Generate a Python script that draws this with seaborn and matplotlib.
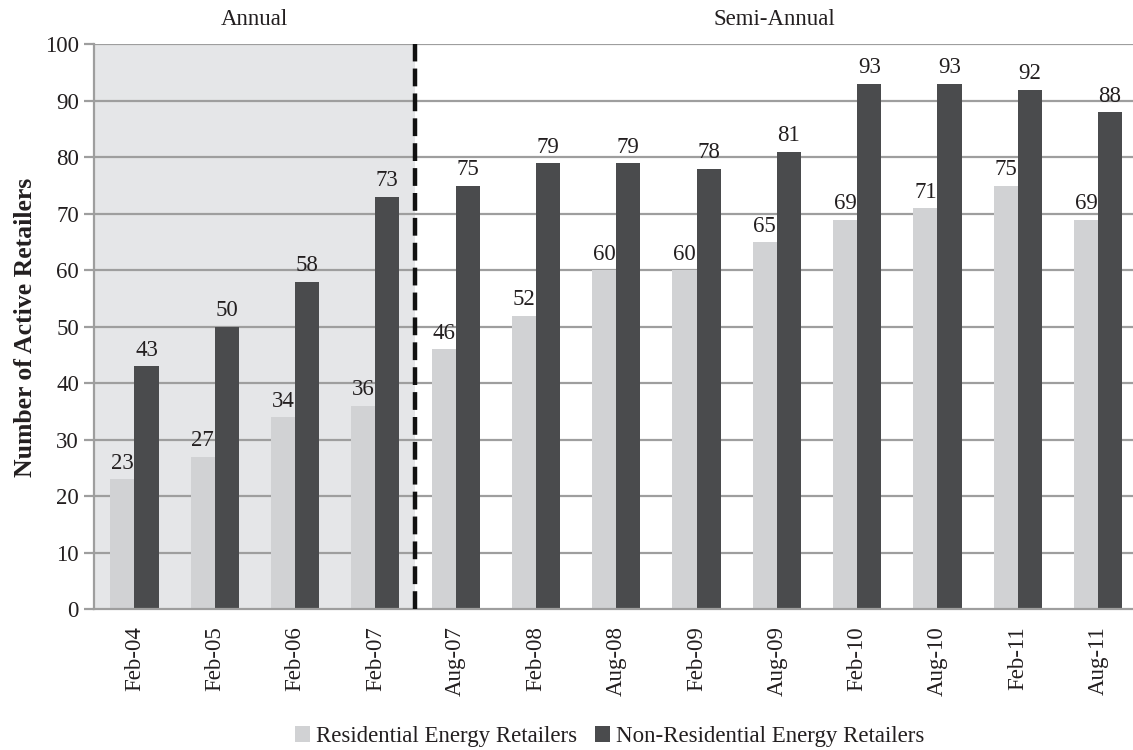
import matplotlib
matplotlib.use("Agg")
import matplotlib.pyplot as plt
import seaborn as sns
import pandas as pd
from matplotlib.patches import Patch

periods = ["Feb-04", "Feb-05", "Feb-06", "Feb-07", "Aug-07", "Feb-08", "Aug-08",
           "Feb-09", "Aug-09", "Feb-10", "Aug-10", "Feb-11", "Aug-11"]
residential = [23, 27, 34, 36, 46, 52, 60, 60, 65, 69, 71, 75, 69]
non_residential = [43, 50, 58, 73, 75, 79, 79, 78, 81, 93, 93, 92, 88]
series_names = ["Residential Energy Retailers", "Non-Residential Energy Retailers"]
section_labels = ["Annual", "Semi-Annual"]
y_ticks = list(range(0, 101, 10))

light = "#d1d2d4"
dark = "#4a4b4d"
shade = "#e5e6e8"
rule = "#9e9e9e"
text_color = "#231f20"
fs = 16.5

sns.set_theme(style="white")
plt.rcParams["font.family"] = ["Liberation Serif", "DejaVu Serif"]

df = pd.DataFrame({
    "period": periods * 2,
    "value": residential + non_residential,
    "series": [series_names[0]] * len(periods) + [series_names[1]] * len(periods),
})

fig = plt.figure(figsize=(11.33, 7.5), dpi=100)
ax = fig.add_axes([0.0832, 0.1876, 0.9214, 0.7531])

n = len(periods)
split = 3.5

# shaded background for the annual reporting period
ax.fill_between([-0.5, split], 0, 100, color=shade, zorder=0, linewidth=0)

sns.barplot(data=df, x="period", y="value", hue="series", order=periods,
            hue_order=series_names, palette=[light, dark], width=0.6,
            saturation=1, ax=ax, legend=False, zorder=3, linewidth=0)

for cont in ax.containers:
    ax.bar_label(cont, padding=4, fontsize=fs, color=text_color)

ax.set_xlim(-0.5, n - 0.5)
ax.set_ylim(0, 100)
ax.set_yticks(y_ticks)
ax.set_yticklabels([str(v) for v in y_ticks], fontsize=fs, color=text_color)
for v in y_ticks[1:]:
    ax.axhline(v, color=rule, linewidth=1.6, zorder=1)

# category labels at centres, tick marks at category boundaries
ax.set_xticks(range(n))
ax.set_xticklabels(periods, rotation=90, fontsize=fs, color=text_color)
ax.tick_params(axis="x", which="major", length=0, pad=12)
ax.set_xticks([i - 0.5 for i in range(n + 1)], minor=True)
ax.tick_params(axis="x", which="minor", length=6, width=1.6, color=rule, direction="out")
ax.tick_params(axis="y", length=7, width=1.6, color=rule, direction="out", left=True, pad=4)

for side in ["top", "right"]:
    ax.spines[side].set_visible(False)
for side in ["left", "bottom"]:
    ax.spines[side].set_color(rule)
    ax.spines[side].set_linewidth(1.6)
    ax.spines[side].set_zorder(4)

ax.axvline(split, color="#111111", linewidth=3.2, linestyle=(0, (4, 1.6)), zorder=5)

ax.set_xlabel("")
ax.set_ylabel("Number of Active Retailers", fontsize=18.5, fontweight="bold",
              color=text_color, labelpad=6)

ax.text((-0.5 + split) / 2, 102.5, section_labels[0], ha="center", va="bottom",
        fontsize=fs, color=text_color)
ax.text((split + n - 0.5 - 0.06) / 2, 102.5, section_labels[1], ha="center", va="bottom",
        fontsize=fs, color=text_color)

handles = [Patch(facecolor=light, edgecolor="none"), Patch(facecolor=dark, edgecolor="none")]
fig.legend(handles, series_names, loc="center", bbox_to_anchor=(0.538, 0.018), ncol=2,
           frameon=False, fontsize=fs, handlelength=0.65, handleheight=0.65,
           handletextpad=0.25, columnspacing=0.8, labelcolor=text_color)

fig.savefig("out.png", dpi=100)
